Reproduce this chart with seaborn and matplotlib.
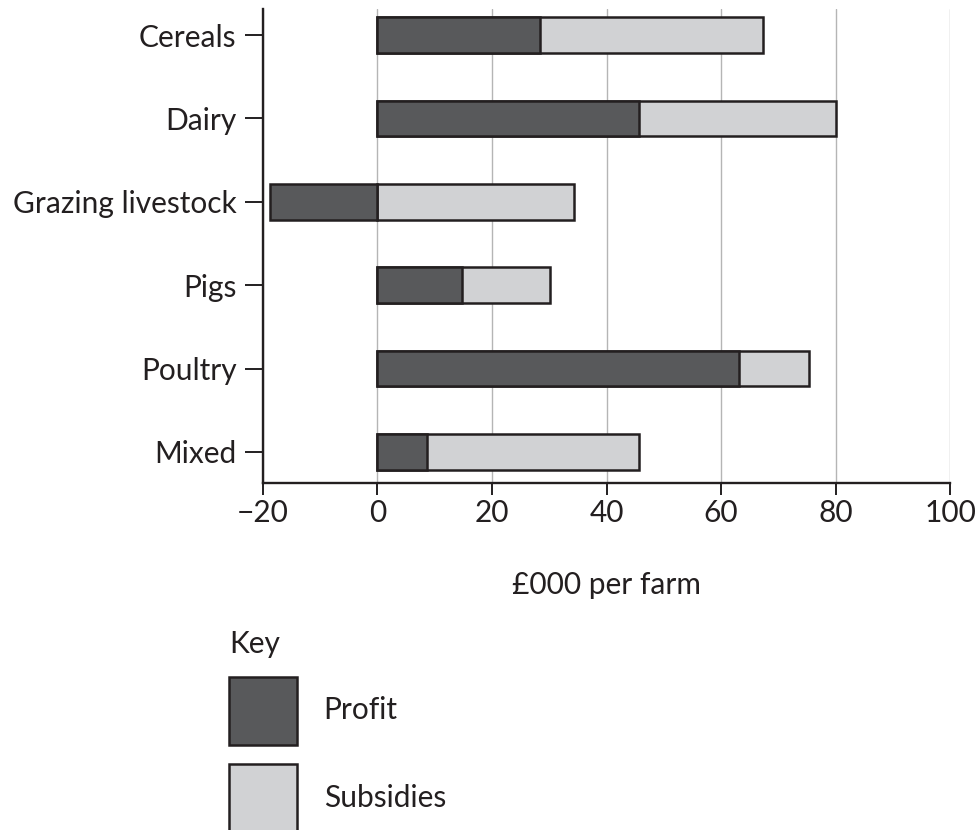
import matplotlib
matplotlib.use("Agg")
import matplotlib.pyplot as plt
import pandas as pd
import seaborn as sns
from matplotlib.patches import Patch

# Data (£000 per farm)
farm_types = ["Cereals", "Dairy", "Grazing livestock", "Pigs", "Poultry", "Mixed"]
profit = [28.4, 45.6, -18.8, 14.8, 63.2, 8.6]
subsidies = [38.9, 34.4, 34.3, 15.3, 12.2, 37.1]
x_ticks = [-20, 0, 20, 40, 60, 80, 100]
x_tick_labels = ["\u221220", "0", "20", "40", "60", "80", "100"]

df = pd.DataFrame({"type": farm_types, "profit": profit, "subsidies": subsidies})
# subsidies sit on top of a positive profit, or start at 0 when profit is negative
df["outer"] = df["subsidies"] + df["profit"].clip(lower=0)

sns.set_style("white")
plt.rcParams["font.family"] = ["Lato", "DejaVu Sans"]

dark = "#58595b"
light = "#d1d2d4"
edge = "#231f20"
fs = 21.5

fig = plt.figure(figsize=(9.78, 8.3), dpi=100)
ax = fig.add_axes([0.2689, 0.4184, 0.7025, 0.5704])

# Light bar (profit + subsidies) first, then the profit bar on top
sns.barplot(data=df, x="outer", y="type", orient="h", color=light, saturation=1,
            edgecolor=edge, linewidth=1.8, width=0.43, errorbar=None, ax=ax, zorder=3)
sns.barplot(data=df, x="profit", y="type", orient="h", color=dark, saturation=1,
            edgecolor=edge, linewidth=1.8, width=0.43, errorbar=None, ax=ax, zorder=3)

ax.set_xlim(-20, 100)
ax.set_ylim(5.37, -0.31)
ax.set_xticks(x_ticks)
ax.set_xticklabels(x_tick_labels)
ax.grid(axis="x", color="#b5b5b5", linewidth=1.0, zorder=0)
ax.grid(axis="y", visible=False)
ax.set_axisbelow(True)

for side in ["top", "right"]:
    ax.spines[side].set_visible(False)
for side in ["left", "bottom"]:
    ax.spines[side].set_color(edge)
    ax.spines[side].set_linewidth(1.7)

ax.tick_params(axis="y", length=13, width=1.4, color=edge, pad=6, labelsize=fs, labelcolor=edge, left=True)
ax.tick_params(axis="x", length=8.5, width=1.4, color=edge, pad=3, labelsize=fs, labelcolor=edge, bottom=True)

ax.set_ylabel("")
ax.set_xlabel("\u00a3000 per farm", fontsize=fs, color=edge, labelpad=32)

# square key boxes, about 68 px each
hl = 68 / (fs * 100 / 72)
hh = (hl - 0.245) / 0.65
handles = [Patch(facecolor=dark, edgecolor=edge, linewidth=1.8, label="Profit"),
           Patch(facecolor=light, edgecolor=edge, linewidth=1.8, label="Subsidies")]
leg = fig.legend(handles=handles, title="Key", loc="upper left",
                 bbox_to_anchor=(0.234, 0.2414), frameon=False, fontsize=fs,
                 title_fontsize=fs, alignment="left", handlelength=hl,
                 handleheight=hh, handletextpad=0.9, labelspacing=0.64,
                 borderpad=0, borderaxespad=0)
for t in leg.get_texts():
    t.set_color(edge)
leg.get_title().set_color(edge)

fig.savefig("out.png", dpi=100)
